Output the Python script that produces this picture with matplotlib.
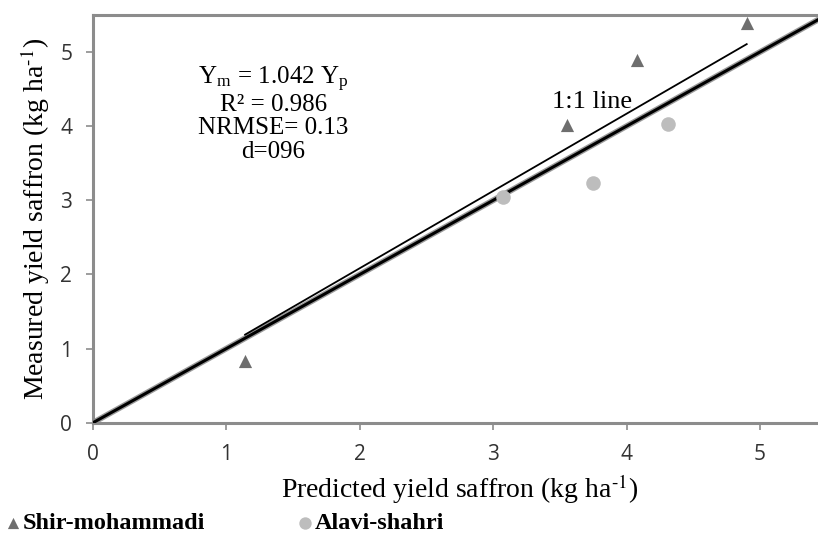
import matplotlib.pyplot as plt

plt.rcParams['font.family'] = 'Liberation Serif'
plt.rcParams['mathtext.fontset'] = 'stix'

# Shir-mohammadi (triangles)
shir_pred = [1.14, 3.55, 4.08, 4.90]
shir_meas = [0.83, 4.01, 4.89, 5.39]

# Alavi-shahri (circles)
alavi_pred = [3.07, 3.75, 4.31]
alavi_meas = [3.04, 3.23, 4.03]

# regression through origin
slope = 1.042
reg_x = [1.14, 4.90]

x_ticks = [0, 1, 2, 3, 4, 5]
y_ticks = [0, 1, 2, 3, 4, 5]

fig = plt.figure(figsize=(8.18, 5.38), dpi=100)
ax = fig.add_axes([0.1137, 0.2143, 0.897, 0.758])

# 1:1 line
ax.plot([0, 5.5], [0, 5.5], color='#9a9a9a', lw=4.2, solid_capstyle='butt', zorder=2)
ax.plot([0, 5.5], [0, 5.5], color='black', lw=2.2, solid_capstyle='butt', zorder=3)
# regression line
ax.plot(reg_x, [slope * v for v in reg_x], color='black', lw=1.3, zorder=3)

ax.scatter(shir_pred, shir_meas, marker='^', s=90, color='#6e6e6e', linewidths=0, zorder=4,
           label='Shir-mohammadi')
ax.scatter(alavi_pred, alavi_meas, marker='o', s=110, color='#bdbdbd', linewidths=0, zorder=4,
           label='Alavi-shahri')

ax.set_xlim(0, 5.5)
ax.set_ylim(0, 5.5)
ax.set_xticks(x_ticks)
ax.set_yticks(y_ticks)
for s in ax.spines.values():
    s.set_color('#8c8c8c')
    s.set_linewidth(2.2)
ax.tick_params(direction='out', length=5, width=1.2, color='#8c8c8c', labelcolor='#333333',
               labelsize=15, pad=10)
for lab in ax.get_xticklabels() + ax.get_yticklabels():
    lab.set_family('Open Sans')

ax.set_xlabel('Predicted yield saffron (kg ha$^{\\text{-1}}$)', fontsize=20, labelpad=6)
ax.set_ylabel('Measured yield saffron (kg ha$^{\\text{-1}}$)', fontsize=20, labelpad=6)

stats = ('Y$_\\mathregular{m}$ = 1.042 Y$_\\mathregular{p}$\n'
         'R² = 0.986\nNRMSE= 0.13\nd=096')
ax.text(1.35, 4.84, stats, ha='center', va='top', fontsize=18, linespacing=1.08)
ax.text(3.74, 4.33, '1:1 line', ha='center', va='center', fontsize=19)

fig.legend(loc='lower left', bbox_to_anchor=(-0.024, -0.02), ncol=2, frameon=False,
           prop={'weight': 'bold', 'size': 17.5}, handletextpad=-0.35, columnspacing=3.35,
           markerscale=0.85, borderaxespad=0.2, handlelength=1.5)

fig.savefig('out.png', dpi=100)
